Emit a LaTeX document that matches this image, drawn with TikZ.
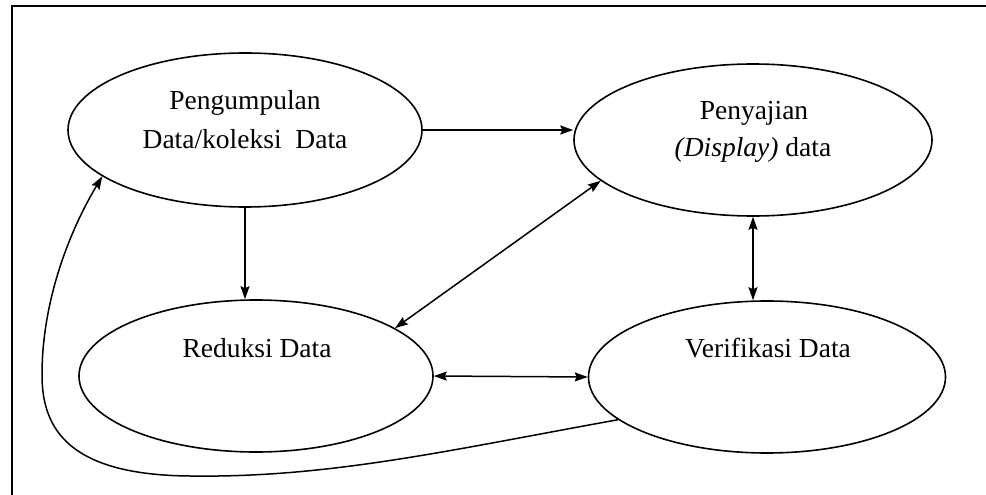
\documentclass[tikz,border=0pt]{standalone}
\usepackage{fontspec}
\setmainfont{Liberation Serif}
\usetikzlibrary{shapes.geometric,arrows.meta}
\begin{document}
\begin{tikzpicture}[x=1pt,y=-1pt,
  oval/.style={draw, ellipse, line width=1.6pt, inner sep=0pt},
  lbl/.style={anchor=base, inner sep=0pt, font=\fontsize{27.5}{33}\selectfont},
  conn/.style={line width=1.5pt, arrows={-Stealth[length=13pt,width=9pt,inset=2pt]}},
  bconn/.style={line width=1.5pt, arrows={Stealth[length=13pt,width=9pt,inset=2pt]-Stealth[length=13pt,width=9pt,inset=2pt]}},
  frame/.style={line width=1.8pt}
]
\useasboundingbox (0,0) rectangle (986,495);
% frame
\coordinate (fa) at (12,495);
\coordinate (fb) at (12,6);
\coordinate (fc) at (986,6);
\draw[frame] (fa) -- (fb) -- (fc);
% ellipses
\node[oval, minimum width=354pt, minimum height=154pt] (e1) at (245,130) {};
\node[oval, minimum width=358pt, minimum height=152pt] (e2) at (753,140) {};
\node[oval, minimum width=354pt, minimum height=152pt] (e3) at (256,376) {};
\node[oval, minimum width=357pt, minimum height=152pt] (e4) at (767,377) {};
% labels
\node[lbl] (t1a) at (245,110) {Pengumpulan};
\node[lbl] (t1b) at (245,148) {Data/koleksi\ \ Data};
\node[lbl] (t2a) at (754,119) {Penyajian};
\node[lbl] (t2b) at (753,157) {\textit{(Display)} data};
\node[lbl] (t3) at (257,357) {Reduksi Data};
\node[lbl] (t4) at (768,357) {Verifikasi Data};
% connectors
\draw[conn] (e1.east) -- (e2.west |- e1.east);
\draw[conn] (e1.south) -- (e1.south |- e3.north);
\draw[bconn] (e2.195) -- (e3.19);
\draw[bconn] (e2.south) -- (e2.south |- e4.north);
\draw[bconn] (e3.east) -- (e4.west);
\draw[conn] (e4.196) .. controls (450,450) and (330,478) .. (190,476)
  .. controls (70,475) and (42,430) .. (42,375)
  .. controls (42,300) and (70,230) .. (e1.198);
\end{tikzpicture}
\end{document}
